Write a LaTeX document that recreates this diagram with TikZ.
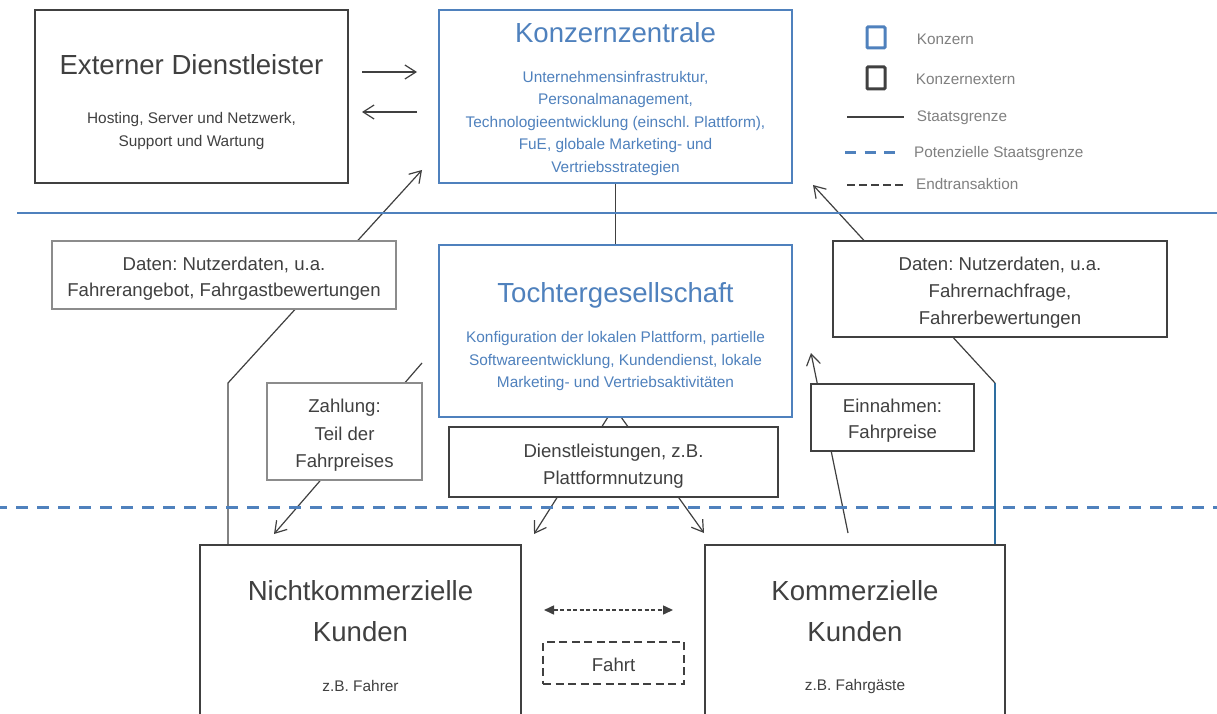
\documentclass[tikz,border=0pt]{standalone}
\usepackage{fontspec}
\setmainfont{Liberation Sans}
\usetikzlibrary{arrows.meta,calc,backgrounds}
\frenchspacing

\definecolor{blueC}{RGB}{79,129,189}
\definecolor{darkC}{RGB}{64,64,64}
\definecolor{greyT}{RGB}{128,128,128}
\definecolor{greyB}{RGB}{140,140,140}
\definecolor{tealC}{RGB}{46,110,160}

\newcommand\ttlfont{\fontsize{27.6}{33}\selectfont}
\newcommand\subfont{\fontsize{15.4}{18}\selectfont}
\newcommand\lblfont{\fontsize{18.6}{22}\selectfont}
\newcommand\legfont{\fontsize{15.3}{18}\selectfont}

\begin{document}
\begin{tikzpicture}[x=1pt,y=-1pt,
  frame/.style={anchor=north west, inner sep=0pt, outer sep=0pt, fill=white},
  orgbox/.style={frame, draw=blueC, line width=2.6pt},
  extbox/.style={frame, draw=darkC, line width=2.6pt},
  tagbox/.style={frame, draw=darkC, line width=1.1pt},
  tagboxlight/.style={frame, draw=greyB, line width=1.1pt},
  txt/.style={anchor=base, inner sep=0pt, text=darkC},
  btxt/.style={txt, text=blueC},
  legtxt/.style={anchor=base west, inner sep=0pt, text=greyT, font=\legfont},
  conn/.style={draw=darkC, line width=1.2pt},
  arr/.style={conn, -{Straight Barb[length=11pt,width=14pt]}},
]
\useasboundingbox (0,0) rectangle (1217,714);
\clip (0,0) rectangle (1217,714);

% borders between states
\draw[blueC, line width=2.5pt] (17,213) -- (1217,213);
\draw[blueC, line width=3pt, dash pattern=on 12pt off 9pt, dash phase=5pt] (0,507) -- (1230,507);

% main boxes
\node[extbox, minimum width=313pt, minimum height=173pt] (ext) at (35,10) {};
\node[orgbox, minimum width=353pt, minimum height=173pt] (kz) at (439,10) {};
\node[orgbox, minimum width=353pt, minimum height=172pt] (tg) at (439,245) {};
\node[extbox, minimum width=321pt, minimum height=215pt] (nk) at (200,545) {};
\node[extbox, minimum width=300pt, minimum height=215pt] (km) at (705,545) {};

% label boxes
\node[tagboxlight, minimum width=344pt, minimum height=68pt] (dL) at (52,241) {};
\node[tagboxlight, minimum width=155pt, minimum height=97pt] (zl) at (267,383) {};
\node[tagbox, minimum width=334pt, minimum height=96pt] (dR) at (833,241) {};
\node[tagbox, minimum width=163pt, minimum height=67pt] (ein) at (811,384) {};
\node[tagbox, minimum width=329pt, minimum height=70pt] (dl) at (449,427) {};
\node[frame, draw=darkC, line width=2.5pt, dash pattern=on 8pt off 4.5pt,
      minimum width=141pt, minimum height=42pt] (fahrt) at (543,642) {};

% free ends of the connectors
\coordinate (r1s) at (362,72);   \coordinate (r1e) at (417,72);
\coordinate (l1s) at (417,112);  \coordinate (l1e) at (362,112);
\coordinate (tipDL) at (422,170);
\coordinate (tipDR) at (813,185);
\coordinate (zs) at (422,363);   \coordinate (zt) at (274,534);
\coordinate (tipS1) at (534,534);
\coordinate (tipS2) at (704,533);
\coordinate (es) at (848,533);   \coordinate (et) at (811,353);
\coordinate (f1) at (544,610);   \coordinate (f2) at (673,610);

% connectors, beneath the label boxes
\begin{scope}[on background layer]
  \fill[white] (0,0) rectangle (1217,714);
  \draw[arr] (r1s) -- (r1e);
  \draw[arr] (l1s) -- (l1e);
  \draw[conn] (kz.south) -- (tg.north);
  \draw[arr] ($(nk.north west)+(28,0)$) -- ++(0,-162) -- (tipDL);
  \draw[draw=tealC, line width=1.2pt] ($(km.north east)+(-10,0)$) -- ++(0,-162) coordinate (bendR);
  \draw[arr] (bendR) -- (tipDR);
  \draw[arr] (zs) -- (zt);
  \draw[arr] ($(tg.south)+(-7.5,0)$) -- (tipS1);
  \draw[arr] ($(tg.south)+(5.5,0)$) -- (tipS2);
  \draw[arr] (es) -- (et);
\end{scope}
\draw[draw=darkC, line width=1.5pt, dash pattern=on 4pt off 2.5pt,
      {Triangle[length=10pt,width=9pt]}-{Triangle[length=10pt,width=9pt]}] (f1) -- (f2);

% texts: Externer Dienstleister
\node[txt, font=\ttlfont] (ext-t) at (191.5,75) {Externer Dienstleister};
\node[txt, font=\subfont] (ext-1) at (191.5,124) {Hosting, Server und Netzwerk,};
\node[txt, font=\subfont] (ext-2) at (191.5,146.5) {Support und Wartung};

% Konzernzentrale
\node[btxt, font=\ttlfont] (kz-t) at (615.5,43) {Konzernzentrale};
\node[btxt, font=\subfont] (kz-1) at (615.5,82.5) {Unternehmensinfrastruktur,};
\node[btxt, font=\subfont] (kz-2) at (615.5,105) {Personalmanagement,};
\node[btxt, font=\subfont] (kz-3) at (615.5,127.5) {Technologieentwicklung (einschl. Plattform),};
\node[btxt, font=\subfont] (kz-4) at (615.5,150) {FuE, globale Marketing- und};
\node[btxt, font=\subfont] (kz-5) at (615.5,172.5) {Vertriebsstrategien};

% Tochtergesellschaft
\node[btxt, font=\ttlfont] (tg-t) at (615.5,302.5) {Tochtergesellschaft};
\node[btxt, font=\subfont] (tg-1) at (615.5,342.7) {Konfiguration der lokalen Plattform, partielle};
\node[btxt, font=\subfont] (tg-2) at (615.5,365.2) {Softwareentwicklung, Kundendienst, lokale};
\node[btxt, font=\subfont] (tg-3) at (615.5,387.7) {Marketing- und Vertriebsaktivitäten};

% label texts
\node[txt, font=\lblfont] (dL-1) at (224,270) {Daten: Nutzerdaten, u.a.};
\node[txt, font=\lblfont] (dL-2) at (224,296.7) {Fahrerangebot, Fahrgastbewertungen};
\node[txt, font=\lblfont] (zl-1) at (344.5,412.7) {Zahlung:};
\node[txt, font=\lblfont] (zl-2) at (344.5,440) {Teil der};
\node[txt, font=\lblfont] (zl-3) at (344.5,467.3) {Fahrpreises};
\node[txt, font=\lblfont] (dR-1) at (1000,270) {Daten: Nutzerdaten, u.a.};
\node[txt, font=\lblfont] (dR-2) at (1000,297.3) {Fahrernachfrage,};
\node[txt, font=\lblfont] (dR-3) at (1000,324) {Fahrerbewertungen};
\node[txt, font=\lblfont] (ein-1) at (892.5,412.3) {Einnahmen:};
\node[txt, font=\lblfont] (ein-2) at (892.5,438.7) {Fahrpreise};
\node[txt, font=\lblfont] (dl-1) at (613.5,457.3) {Dienstleistungen, z.B.};
\node[txt, font=\lblfont] (dl-2) at (613.5,484) {Plattformnutzung};
\node[txt, font=\lblfont] (fahrt-t) at (613.5,671.7) {Fahrt};

% customers
\node[txt, font=\ttlfont] (nk-1) at (360.5,600) {Nichtkommerzielle};
\node[txt, font=\ttlfont] (nk-2) at (360.5,641.7) {Kunden};
\node[txt, font=\subfont] (nk-3) at (360.5,691) {z.B. Fahrer};
\node[txt, font=\ttlfont] (km-1) at (855,600) {Kommerzielle};
\node[txt, font=\ttlfont] (km-2) at (855,641.7) {Kunden};
\node[txt, font=\subfont] (km-3) at (855,690) {z.B. Fahrgäste};

% legend
\node[frame, draw=blueC, line width=3pt, rounded corners=1pt,
      minimum width=18pt, minimum height=21pt] (leg-a) at (867,27) {};
\node[frame, draw=darkC, line width=3pt, rounded corners=1pt,
      minimum width=18pt, minimum height=22pt] (leg-b) at (867,67) {};
\coordinate (lc1) at (847,117); \coordinate (lc2) at (904,117);
\coordinate (ld1) at (845,153); \coordinate (ld2) at (898,153);
\coordinate (le1) at (847,185); \coordinate (le2) at (903,185);
\draw[darkC, line width=2pt] (lc1) -- (lc2);
\draw[blueC, line width=3pt, dash pattern=on 11pt off 8.5pt] (ld1) -- (ld2);
\draw[darkC, line width=2.5pt, dash pattern=on 8pt off 4pt] (le1) -- (le2);
\node[legtxt] (leg-1) at (916.7,44.3) {Konzern};
\node[legtxt] (leg-2) at (915.7,85) {Konzernextern};
\node[legtxt] (leg-3) at (916.7,121.7) {Staatsgrenze};
\node[legtxt] (leg-4) at (914,157.3) {Potenzielle Staatsgrenze};
\node[legtxt] (leg-5) at (916,189.3) {Endtransaktion};
\end{tikzpicture}
\end{document}
